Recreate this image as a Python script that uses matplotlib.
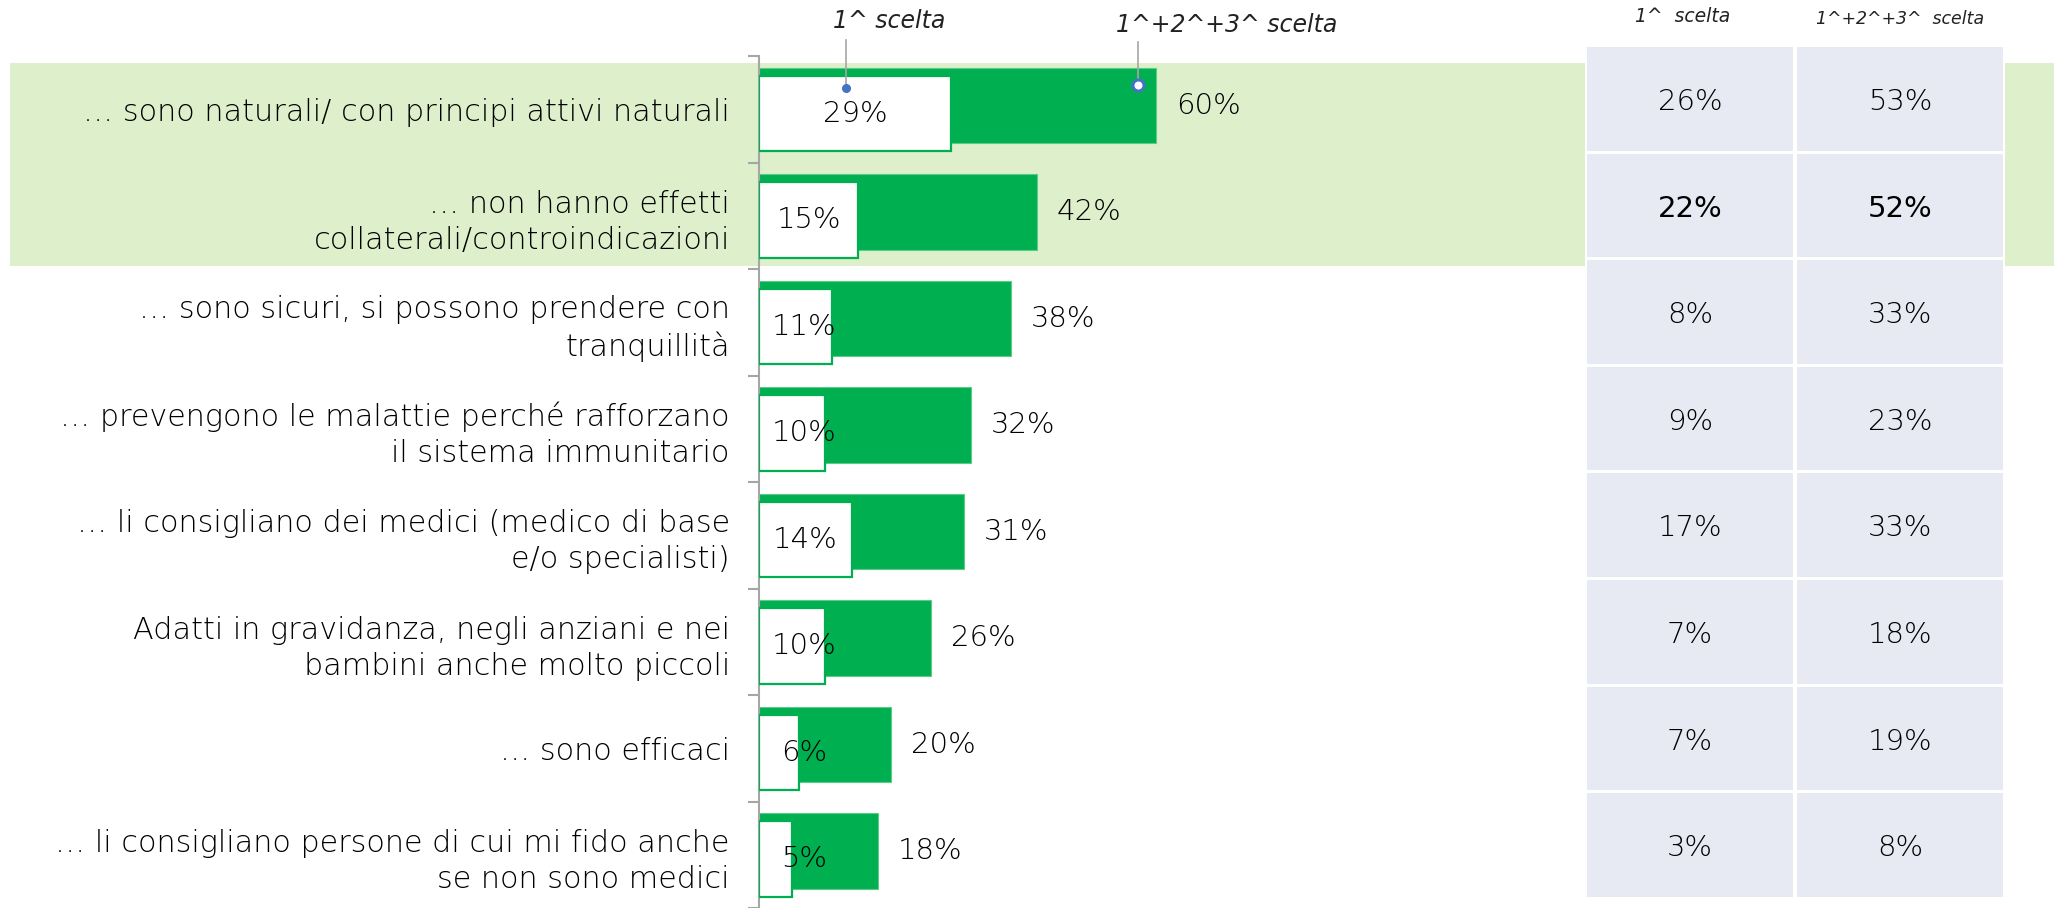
import numpy as np
import matplotlib
matplotlib.use("Agg")
import matplotlib.pyplot as plt
from matplotlib.patches import Rectangle
from matplotlib.lines import Line2D

W, H = 2054, 908

categories = [
    "… sono naturali/ con principi attivi naturali",
    "… non hanno effetti\ncollaterali/controindicazioni",
    "… sono sicuri, si possono prendere con\ntranquillità",
    "… prevengono le malattie perché rafforzano\nil sistema immunitario",
    "… li consigliano dei medici (medico di base\ne/o specialisti)",
    "Adatti in gravidanza, negli anziani e nei\nbambini anche molto piccoli",
    "… sono efficaci",
    "… li consigliano persone di cui mi fido anche\nse non sono medici",
]
first_choice = [29, 15, 11, 10, 14, 10, 6, 5]
top3_choice = [60, 42, 38, 32, 31, 26, 20, 18]
table_first = [26, 22, 8, 9, 17, 7, 7, 3]
table_top3 = [53, 52, 33, 23, 33, 18, 19, 8]
bar_headers = ["1^ scelta", "1^+2^+3^ scelta"]
table_headers = ["1^  scelta", "1^+2^+3^  scelta"]

GREEN = "#00B050"
BAND = "#DEEFCC"
CELL = "#E8EAF3"
GRAY = "#A6A6A6"
TXT = "#000000"
FONT = ["DejaVu Sans"]

plt.rcParams["font.family"] = FONT

fig = plt.figure(figsize=(W / 100, H / 100), dpi=100)


def fx(x):
    return x / W


def fy(y):
    return 1 - y / H


# highlight band behind first two rows
fig.patches.append(Rectangle((fx(10), fy(266)), fx(2054 - 10), (266 - 63) / H,
                             transform=fig.transFigure, facecolor=BAND,
                             edgecolor="none", zorder=-5))

# ---- bar chart ----
ax = fig.add_axes([fx(759), fy(908), 662 / W, 852 / H])
ax.patch.set_visible(False)
ax.set_xlim(0, 100)
ax.set_ylim(7.5, -0.5)
y = np.arange(len(categories))
ax.barh(y - 0.035, top3_choice, height=0.71, color=GREEN, edgecolor="#5CCB8A",
        linewidth=0.8, zorder=2)
ax.barh(y + 0.04, first_choice, height=0.71, color="white", edgecolor=GREEN,
        linewidth=1.6, zorder=3)

for yi, t, f in zip(y, top3_choice, first_choice):
    ax.text(t + 3, yi - 0.035, f"{t}%", va="center", ha="left", fontsize=21,
            color=TXT, fontweight="light", zorder=5)
    ax.text(max(f / 2, 6.8), yi + 0.04, f"{f}%", va="center", ha="center",
            fontsize=21, color=TXT, fontweight="light", zorder=5)

for s in ["top", "right", "bottom"]:
    ax.spines[s].set_visible(False)
ax.spines["left"].set_color(GRAY)
ax.spines["left"].set_linewidth(1.5)
ax.set_xticks([])
ax.set_yticks(y)
ax.set_yticklabels(categories, fontsize=21.8, color=TXT, fontweight="light",
                   linespacing=1.3)
ax.tick_params(axis="y", which="major", length=0, pad=21)
ax.set_yticks(np.arange(-0.5, len(categories), 1.0), minor=True)
ax.tick_params(axis="y", which="minor", length=8, width=1.5, color=GRAY,
               direction="out")

# header labels with leader lines / markers
fig.text(fx(889), fy(21), bar_headers[0], ha="center", va="center", fontsize=17,
         style="italic", color="#222222", fontweight="normal")
fig.text(fx(1227), fy(25), bar_headers[1], ha="center", va="center", fontsize=17,
         style="italic", color="#222222", fontweight="normal")
fig.lines.append(Line2D([fx(846), fx(846)], [fy(40), fy(84)], transform=fig.transFigure,
                        color=GRAY, lw=1.2, zorder=6))
fig.lines.append(Line2D([fx(1138), fx(1138)], [fy(42), fy(80)], transform=fig.transFigure,
                        color=GRAY, lw=1.2, zorder=6))
fig.lines.append(Line2D([fx(846)], [fy(88)], transform=fig.transFigure, marker="o",
                        markersize=5.5, color="#4472C4", zorder=7))
fig.lines.append(Line2D([fx(1138)], [fy(85)], transform=fig.transFigure, marker="o",
                        markersize=8, markerfacecolor="white",
                        markeredgecolor="#4472C4", markeredgewidth=2.2, zorder=7))

# ---- table ----
tab = fig.add_axes([fx(1585), fy(898.3), 420 / W, (898.3 - 45.5) / H])
tab.set_facecolor("white")
tab.set_xlim(0, 2)
tab.set_ylim(8, 0)
tab.axis("off")
tab.add_patch(Rectangle((0, 0), 2, 8, facecolor="white", edgecolor="none", zorder=0))
for r, (a, b) in enumerate(zip(table_first, table_top3)):
    for c, v in enumerate([a, b]):
        tab.add_patch(Rectangle((c + 0.01, r + 0.014), 0.98, 0.972,
                                facecolor=CELL, edgecolor="none", zorder=1))
        tab.text(c + 0.5, r + 0.53, f"{v}%", ha="center", va="center", fontsize=21,
                 color=TXT, fontweight="normal" if r == 1 else "light", zorder=2)

fig.text(fx(1683), fy(17), table_headers[0], ha="center", va="center", fontsize=13.5,
         style="italic", color="#222222", fontweight="normal")
fig.text(fx(1900), fy(19), table_headers[1], ha="center", va="center", fontsize=12.5,
         style="italic", color="#222222", fontweight="normal")

fig.savefig("out.png", dpi=100, facecolor="white")
